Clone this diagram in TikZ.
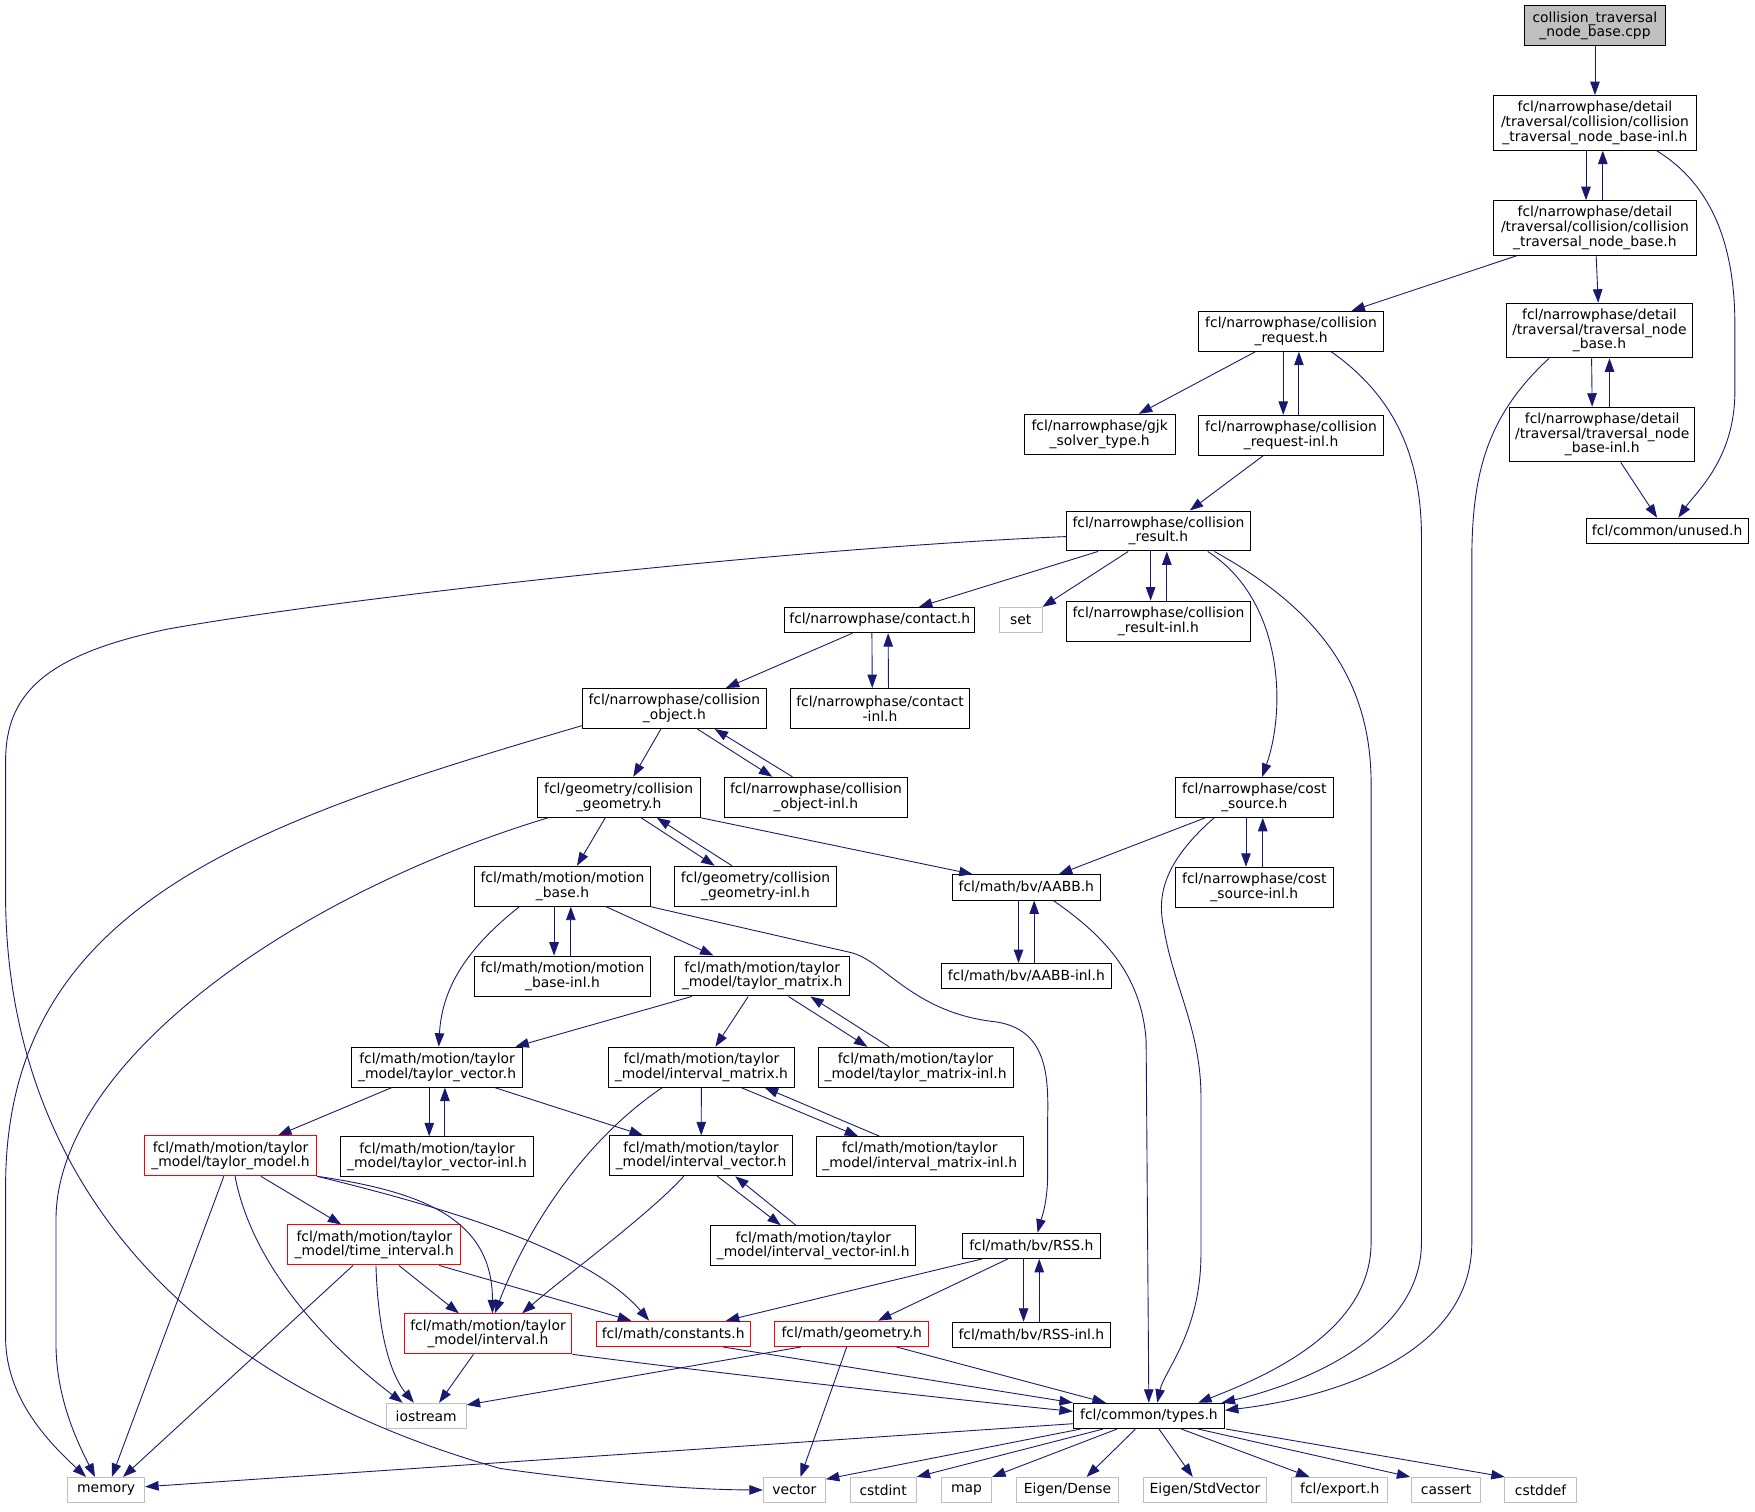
\documentclass[tikz,border=0pt]{standalone}
\usepackage{fontspec}
\setmainfont{DejaVu Sans}
\usepackage{tikz}
\usetikzlibrary{arrows.meta,positioning}
\definecolor{edgeblue}{HTML}{191970}
\definecolor{sysgray}{HTML}{BFBFBF}

\begin{document}
\begin{tikzpicture}[
  x=1pt, y=-1pt,
  font=\fontsize{12.4}{13.1}\selectfont,
  filebox/.style={rectangle, draw, line width=0.9pt, align=center, inner xsep=3pt, inner ysep=1pt, minimum height=22.6pt},
  hdrbox/.style={filebox, draw=black},
  redbox/.style={filebox, draw=red},
  sysbox/.style={filebox, draw=sysgray},
  rootbox/.style={filebox, draw=black, fill=sysgray},
  rows2/.style={minimum height=35.7pt},
  rows3/.style={minimum height=48.8pt},
  arrow/.style={-{Triangle[length=12pt,width=8.5pt]}, color=edgeblue, line width=0.8pt}
]
\useasboundingbox (0,0) rectangle (1568,1350);

\node[rootbox, rows2, minimum width=126pt] (cpp) at (1425,23) {collision\_traversal\\\_node\_base.cpp};
\node[hdrbox, rows3, minimum width=181pt, below=43.6pt of cpp] (ctnbinl) {fcl/narrowphase/detail\\/traversal/collision/collision\\\_traversal\_node\_base-inl.h};
\node[hdrbox, rows3, minimum width=181pt, below=44.2pt of ctnbinl] (ctnb) {fcl/narrowphase/detail\\/traversal/collision/collision\\\_traversal\_node\_base.h};
\node[hdrbox, rows2, minimum width=165pt] (creq) at (1153.5,296) {fcl/narrowphase/collision\\\_request.h};
\node[hdrbox, rows3, minimum width=166pt] (tnb) at (1429,295.3) {fcl/narrowphase/detail\\/traversal/traversal\_node\\\_base.h};
\node[hdrbox, rows2, minimum width=135pt] (gjk) at (982.5,388) {fcl/narrowphase/gjk\\\_solver\_type.h};
\node[hdrbox, rows2, minimum width=165pt, below=56.3pt of creq] (creqinl) {fcl/narrowphase/collision\\\_request-inl.h};
\node[hdrbox, rows3, minimum width=165pt] (tnbinl) at (1431.5,388.2) {fcl/narrowphase/detail\\/traversal/traversal\_node\\\_base-inl.h};
\node[hdrbox, minimum width=145pt] (unused) at (1489.5,474.3) {fcl/common/unused.h};
\node[hdrbox, rows2, minimum width=164.5pt] (cres) at (1035,474.4) {fcl/narrowphase/collision\\\_result.h};
\node[hdrbox, minimum width=170pt] (contact) at (786,554) {fcl/narrowphase/contact.h};
\node[sysbox, minimum width=38pt] (set) at (912,554) {set};
\node[hdrbox, rows2, minimum width=164.5pt, below=43.9pt of cres] (cresinl) {fcl/narrowphase/collision\\\_result-inl.h};
\node[hdrbox, rows2, minimum width=164pt] (cobj) at (602.5,633) {fcl/narrowphase/collision\\\_object.h};
\node[hdrbox, rows2, minimum width=159.3pt] (continl) at (786.3,633) {fcl/narrowphase/contact\\-inl.h};
\node[hdrbox, rows2, minimum width=145.6pt] (cgeom) at (552.8,712.3) {fcl/geometry/collision\\\_geometry.h};
\node[hdrbox, rows2, minimum width=164pt] (cobjinl) at (729,712.3) {fcl/narrowphase/collision\\\_object-inl.h};
\node[hdrbox, rows2, minimum width=140.6pt] (cost) at (1120.7,712.4) {fcl/narrowphase/cost\\\_source.h};
\node[hdrbox, rows2, minimum width=157pt] (mbase) at (502.5,791.8) {fcl/math/motion/motion\\\_base.h};
\node[hdrbox, rows2, minimum width=145pt] (cgeominl) at (675,791.8) {fcl/geometry/collision\\\_geometry-inl.h};
\node[hdrbox, minimum width=132pt] (aabb) at (917,792.8) {fcl/math/bv/AABB.h};
\node[hdrbox, rows2, minimum width=140.6pt, below=43.7pt of cost] (costinl) {fcl/narrowphase/cost\\\_source-inl.h};
\node[hdrbox, rows2, minimum width=157pt, below=43.7pt of mbase] (mbaseinl) {fcl/math/motion/motion\\\_base-inl.h};
\node[hdrbox, rows2, minimum width=156pt] (tmat) at (681,872) {fcl/math/motion/taylor\\\_model/taylor\_matrix.h};
\node[hdrbox, minimum width=151.6pt, below=55.9pt of aabb] (aabbinl) {fcl/math/bv/AABB-inl.h};
\node[hdrbox, rows2, minimum width=152.3pt] (tvec) at (390.5,953.4) {fcl/math/motion/taylor\\\_model/taylor\_vector.h};
\node[hdrbox, rows2, minimum width=166.3pt] (imat) at (626.7,953.4) {fcl/math/motion/taylor\\\_model/interval\_matrix.h};
\node[hdrbox, rows2, minimum width=174.2pt] (tmatinl) at (818,953.6) {fcl/math/motion/taylor\\\_model/taylor\_matrix-inl.h};
\node[redbox, rows2, minimum width=153.4pt] (tmodel) at (206,1032.6) {fcl/math/motion/taylor\\\_model/taylor\_model.h};
\node[hdrbox, rows2, minimum width=173pt, below=43.5pt of tvec] (tvecinl) {fcl/math/motion/taylor\\\_model/taylor\_vector-inl.h};
\node[hdrbox, rows2, minimum width=163.6pt] (ivec) at (626.4,1032.6) {fcl/math/motion/taylor\\\_model/interval\_vector.h};
\node[hdrbox, rows2, minimum width=184.7pt] (imatinl) at (821.7,1033.4) {fcl/math/motion/taylor\\\_model/interval\_matrix-inl.h};
\node[redbox, rows2, minimum width=154.8pt] (tint) at (334.4,1112.3) {fcl/math/motion/taylor\\\_model/time\_interval.h};
\node[hdrbox, rows2, minimum width=183.3pt] (ivecinl) at (726.6,1113) {fcl/math/motion/taylor\\\_model/interval\_vector-inl.h};
\node[hdrbox, minimum width=123pt] (rss) at (921.5,1113) {fcl/math/bv/RSS.h};
\node[redbox, rows2, minimum width=149.8pt] (interval) at (436,1191.7) {fcl/math/motion/taylor\\\_model/interval.h};
\node[redbox, minimum width=137.5pt] (const) at (601.5,1191.7) {fcl/math/constants.h};
\node[redbox, minimum width=137.3pt] (geom) at (761,1191.7) {fcl/math/geometry.h};
\node[hdrbox, minimum width=141.6pt, below=56.1pt of rss] (rssinl) {fcl/math/bv/RSS-inl.h};
\node[sysbox, minimum width=71.4pt] (iostream) at (380.8,1265) {iostream};
\node[hdrbox, minimum width=135pt] (types) at (1026.5,1265) {fcl/common/types.h};

\node[sysbox, minimum width=68.7pt] (memory) at (94.9,1331.3) {memory};
\node[sysbox, minimum width=55.4pt] (vector) at (709.7,1331.3) {vector};
\node[sysbox, minimum width=59pt] (cstdint) at (789,1331.3) {cstdint};
\node[sysbox, minimum width=45pt] (map) at (863.5,1331.3) {map};
\node[sysbox, minimum width=91.6pt] (eigdense) at (953.8,1331.3) {Eigen/Dense};
\node[sysbox, minimum width=110.2pt] (eigstd) at (1076.6,1331.3) {Eigen/StdVector};
\node[sysbox, minimum width=86pt] (export) at (1197,1331.3) {fcl/export.h};
\node[sysbox, minimum width=62pt] (cassert) at (1292,1331.3) {cassert};
\node[sysbox, minimum width=63.8pt] (cstddef) at (1376.4,1331.3) {cstddef};

\draw[arrow] (cpp) -- (ctnbinl);
\draw[arrow] ([xshift=-8pt]ctnbinl.south) -- ([xshift=-8pt]ctnb.north);
\draw[arrow] ([xshift=7pt]ctnb.north) -- ([xshift=7pt]ctnbinl.south);
\draw[arrow] ([xshift=55pt]ctnbinl.south) .. controls (1530,165) and (1550,220) .. (1550,290) -- (1550,350) .. controls (1550,410) and (1515,440) .. ([xshift=10pt]unused.north);
\draw[arrow] ([xshift=-70pt]ctnb.south) -- ([xshift=54pt]creq.north);
\draw[arrow] (ctnb) -- (tnb);

\draw[arrow] ([xshift=-32pt]creq.south) -- ([xshift=35pt]gjk.north);
\draw[arrow] ([xshift=-7pt]creq.south) -- ([xshift=-7pt]creqinl.north);
\draw[arrow] ([xshift=7pt]creqinl.north) -- ([xshift=7pt]creq.south);
\draw[arrow] ([xshift=36pt]creq.south) .. controls (1240,350) and (1270,400) .. (1270,480) -- (1270,1110) .. controls (1270,1200) and (1150,1240) .. ([xshift=-3pt]types.north east);
\draw[arrow] ([xshift=-25pt]creqinl.south) -- ([xshift=28pt]cres.north);
\draw[arrow] ([xshift=-7pt]tnb.south) -- ([xshift=-9pt]tnbinl.north);
\draw[arrow] ([xshift=6.5pt]tnbinl.north) -- ([xshift=9pt]tnb.south);
\draw[arrow] ([xshift=-45pt]tnb.south) .. controls (1330,370) and (1315,420) .. (1315,500) -- (1315,1110) .. controls (1315,1215) and (1180,1250) .. ([yshift=5pt]types.east);
\draw[arrow] ([xshift=16.5pt]tnbinl.south) -- ([xshift=-9pt]unused.north);

\draw[arrow] ([yshift=-5pt]cres.west) .. controls (700,490) and (300,535) .. (150,562) .. controls (40,585) and (5,620) .. (5,680) -- (5,800) .. controls (5,1010) and (120,1220) .. (447,1312) .. controls (540,1325) and (620,1331) .. (vector);
\draw[arrow] ([xshift=-54pt]cres.south) -- ([xshift=35pt]contact.north);
\draw[arrow] ([xshift=-27pt]cres.south) -- (set.north east);
\draw[arrow] ([xshift=-7pt]cres.south) -- ([xshift=-7pt]cresinl.north);
\draw[arrow] ([xshift=7.5pt]cresinl.north) -- ([xshift=7.5pt]cres.south);
\draw[arrow] ([xshift=44pt]cres.south) .. controls (1145,535) and (1150,630) .. ([xshift=7pt]cost.north);
\draw[arrow] ([xshift=50pt]cres.south) .. controls (1170,540) and (1225,600) .. (1225,700) -- (1225,1110) .. controls (1225,1190) and (1130,1230) .. ([xshift=44pt]types.north);

\draw[arrow] ([xshift=-24.5pt]contact.south) -- ([xshift=46pt]cobj.north);
\draw[arrow] ([xshift=-7pt]contact.south) -- ([xshift=-7pt]continl.north);
\draw[arrow] ([xshift=7.5pt]continl.north) -- ([xshift=7.5pt]contact.south);

\draw[arrow] ([yshift=3pt]cobj.south west) .. controls (220,736) and (5,810) .. (5,1060) -- (5,1195) .. controls (5,1250) and (45,1290) .. ([xshift=-18pt]memory.north);
\draw[arrow] ([xshift=-12pt]cobj.south) -- ([xshift=13pt]cgeom.north);
\draw[arrow] ([xshift=20.5pt]cobj.south) -- ([xshift=-39pt]cobjinl.north);
\draw[arrow] ([xshift=-21pt]cobjinl.north) -- ([xshift=36pt]cobj.south);

\draw[arrow] ([xshift=-63pt]cgeom.south) .. controls (260,800) and (50,950) .. (50,1090) -- (50,1200) .. controls (50,1250) and (70,1290) .. ([xshift=-10pt]memory.north);
\draw[arrow] ([xshift=-12pt]cgeom.south) -- ([xshift=13pt]mbase.north);
\draw[arrow] ([xshift=20pt]cgeom.south) -- ([xshift=-36.5pt]cgeominl.north);
\draw[arrow] ([xshift=-21pt]cgeominl.north) -- ([xshift=34pt]cgeom.south);
\draw[arrow] (cgeom.south east) -- ([xshift=-48pt]aabb.north);

\draw[arrow] ([xshift=-44pt]cost.south) -- ([xshift=29pt]aabb.north);
\draw[arrow] ([xshift=-7.5pt]cost.south) -- ([xshift=-7.5pt]costinl.north);
\draw[arrow] ([xshift=7.5pt]costinl.north) -- ([xshift=7.5pt]cost.south);
\draw[arrow] ([xshift=-36pt]cost.south) .. controls (1040,770) and (1033,800) .. (1040,830) .. controls (1048,880) and (1073,920) .. (1073,980) -- (1073,1120) .. controls (1073,1190) and (1040,1225) .. ([xshift=7.5pt]types.north);

\draw[arrow] ([xshift=-7.5pt]mbase.south) -- ([xshift=-7.5pt]mbaseinl.north);
\draw[arrow] ([xshift=7.5pt]mbaseinl.north) -- ([xshift=7.5pt]mbase.south);
\draw[arrow] ([xshift=-38.5pt]mbase.south) .. controls (420,845) and (395,880) .. ([xshift=1.5pt]tvec.north);
\draw[arrow] ([xshift=39pt]mbase.south) -- ([xshift=-43.5pt]tmat.north);
\draw[arrow] (mbase.south east) -- (760,851) .. controls (790,858) and (815,905) .. (890,913) .. controls (935,920) and (937,960) .. (936,1000) -- (936,1050) .. controls (936,1075) and (930,1090) .. ([xshift=5.5pt]rss.north);

\draw[arrow] ([xshift=-7pt]aabb.south) -- ([xshift=-7pt]aabbinl.north);
\draw[arrow] ([xshift=7pt]aabbinl.north) -- ([xshift=7pt]aabb.south);
\draw[arrow] ([xshift=24pt]aabb.south) .. controls (985,835) and (1020,870) .. (1024,930) -- (types);

\draw[arrow] ([xshift=-63pt]tmat.south) -- ([xshift=70pt]tvec.north);
\draw[arrow] ([xshift=-12.5pt]tmat.south) -- ([xshift=12.5pt]imat.north);
\draw[arrow] ([xshift=23.5pt]tmat.south) -- ([xshift=-43pt]tmatinl.north);
\draw[arrow] ([xshift=-23.5pt]tmatinl.north) -- ([xshift=43pt]tmat.south);

\draw[arrow] ([xshift=-40.5pt]tvec.south) -- ([xshift=42.5pt]tmodel.north);
\draw[arrow] ([xshift=-7pt]tvec.south) -- ([xshift=-7pt]tvecinl.north);
\draw[arrow] ([xshift=7pt]tvecinl.north) -- ([xshift=7pt]tvec.south);
\draw[arrow] ([xshift=51.5pt]tvec.south) -- ([xshift=-52pt]ivec.north);

\draw[arrow] (imat) -- (ivec);
\draw[arrow] ([xshift=-35pt]imat.south) .. controls (520,1020) and (470,1100) .. ([xshift=6pt]interval.north);
\draw[arrow] ([xshift=35.5pt]imat.south) -- ([xshift=-55pt]imatinl.north);
\draw[arrow] ([xshift=-36pt]imatinl.north) -- ([xshift=56.5pt]imat.south);

\draw[arrow] ([xshift=14.5pt]ivec.south) -- ([xshift=-29pt]ivecinl.north);
\draw[arrow] ([xshift=-15.5pt]ivecinl.north) -- ([xshift=30.5pt]ivec.south);
\draw[arrow] ([xshift=-15.5pt]ivec.south) .. controls (580,1085) and (505,1140) .. ([xshift=30.5pt]interval.north);

\draw[arrow] ([xshift=-6pt]tmodel.south) -- ([xshift=5pt]memory.north);
\draw[arrow] ([xshift=4pt]tmodel.south) .. controls (225,1130) and (290,1200) .. ([xshift=-21pt]iostream.north);
\draw[arrow] ([xshift=27pt]tmodel.south) -- ([xshift=-29.5pt]tint.north);
\draw[arrow] (tmodel.south east) .. controls (380,1065) and (440,1090) .. ([xshift=4pt]interval.north);
\draw[arrow] (tmodel.south east) .. controls (360,1070) and (520,1110) .. ([xshift=-21.5pt]const.north);

\draw[arrow] ([xshift=-19pt]tint.south) -- ([xshift=15pt]memory.north);
\draw[arrow] ([xshift=1.5pt]tint.south) .. controls (338,1200) and (352,1232) .. ([xshift=-11pt]iostream.north);
\draw[arrow] ([xshift=22pt]tint.south) -- ([xshift=-26pt]interval.north);
\draw[arrow] ([xshift=58pt]tint.south) -- ([xshift=-37.5pt]const.north);

\draw[arrow] ([xshift=-44pt]rss.south) -- ([xshift=47pt]const.north);
\draw[arrow] ([xshift=-21pt]rss.south) -- ([xshift=23.5pt]geom.north);
\draw[arrow] ([xshift=-7pt]rss.south) -- ([xshift=-7pt]rssinl.north);
\draw[arrow] ([xshift=7pt]rssinl.north) -- ([xshift=7pt]rss.south);

\draw[arrow] ([xshift=-13pt]interval.south) -- ([xshift=11.5pt]iostream.north);
\draw[arrow] (interval.south east) .. controls (650,1228) and (850,1250) .. ([yshift=4pt]types.west);
\draw[arrow] ([xshift=44.5pt]const.south) -- (types.north west);
\draw[arrow] ([xshift=-45.5pt]geom.south) -- ([yshift=-2pt]iostream.north east);
\draw[arrow] ([xshift=-4.5pt]geom.south) -- ([xshift=5.5pt]vector.north);
\draw[arrow] ([xshift=40pt]geom.south) -- ([xshift=-38.5pt]types.north);

\draw[arrow] ([yshift=-7pt]types.west) -- ([yshift=3pt]memory.east);
\draw[arrow] ([xshift=-61pt]types.south) -- ([yshift=-2pt]vector.north east);
\draw[arrow] ([xshift=-41pt]types.south) -- (cstdint.north east);
\draw[arrow] ([xshift=-28.5pt]types.south) -- (map.north east);
\draw[arrow] ([xshift=-12pt]types.south) -- ([xshift=17pt]eigdense.north);
\draw[arrow] ([xshift=9pt]types.south) -- ([xshift=-11pt]eigstd.north);
\draw[arrow] ([xshift=29pt]types.south) -- ([xshift=-27pt]export.north);
\draw[arrow] ([xshift=44pt]types.south) -- ([xshift=-32pt]cassert.north);
\draw[arrow] ([xshift=69pt]types.south) -- ([xshift=-32pt]cstddef.north);

\end{tikzpicture}
\end{document}
